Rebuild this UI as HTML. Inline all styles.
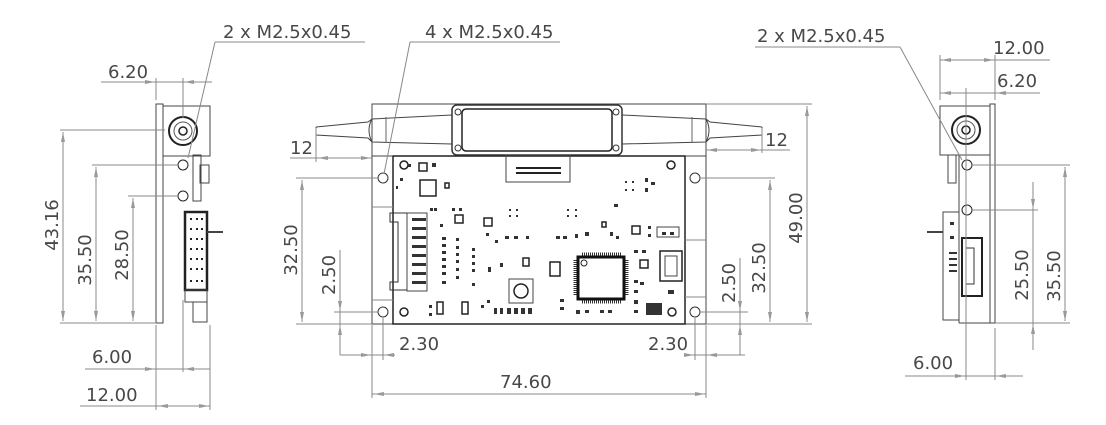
<!DOCTYPE html>
<html><head><meta charset="utf-8"><style>
html,body{margin:0;padding:0;background:#fff;}
svg{display:block;}
text{font-family:"DejaVu Sans","Liberation Sans",sans-serif;font-size:18px;fill:#484848;font-weight:normal;}
</style></head><body>
<svg width="1106" height="425" viewBox="0 0 1106 425" xmlns="http://www.w3.org/2000/svg">
<defs>
<marker id="a" viewBox="0 0 10 4" refX="10" refY="2" markerWidth="10" markerHeight="4" orient="auto-start-reverse" markerUnits="userSpaceOnUse"><path d="M0,0 L10,2 L0,4z" fill="#999"/></marker>
</defs>
<g stroke="#888" stroke-width="1" fill="none">
<!-- ===== LEFT VIEW ===== -->
<rect x="156" y="104" width="7" height="219" stroke="#444"/>
<rect x="163" y="106" width="47" height="50" stroke="#444"/>
<circle cx="183" cy="131" r="14" stroke="#222" stroke-width="2"/>
<circle cx="183" cy="131" r="9" stroke="#555"/>
<circle cx="183" cy="131" r="4" stroke="#222" stroke-width="1.5"/>
<circle cx="183" cy="165" r="5" stroke="#222"/>
<circle cx="183" cy="196" r="5" stroke="#222"/>
<rect x="193" y="155" width="8" height="46" stroke="#444"/>
<rect x="200" y="165" width="9" height="18" stroke="#444"/>
<rect x="185" y="212" width="22" height="78" stroke="#222" stroke-width="2.5"/>
<rect x="185" y="290" width="22" height="12" stroke="#444"/>
<rect x="193" y="302" width="14" height="20" stroke="#444"/>
<line x1="207" y1="232" x2="223" y2="232" stroke="#444" stroke-width="2"/>
<g fill="#222" stroke="none">
<rect x="190" y="218" width="2" height="2"/><rect x="196" y="218" width="2" height="2"/><rect x="201" y="218" width="2" height="2"/>
<rect x="190" y="228" width="2" height="2"/><rect x="196" y="228" width="2" height="2"/><rect x="201" y="228" width="2" height="2"/>
<rect x="190" y="238" width="2" height="2"/><rect x="196" y="238" width="2" height="2"/><rect x="201" y="238" width="2" height="2"/>
<rect x="190" y="248" width="2" height="2"/><rect x="196" y="248" width="2" height="2"/><rect x="201" y="248" width="2" height="2"/>
<rect x="190" y="258" width="2" height="2"/><rect x="196" y="258" width="2" height="2"/><rect x="201" y="258" width="2" height="2"/>
<rect x="190" y="268" width="2" height="2"/><rect x="196" y="268" width="2" height="2"/><rect x="201" y="268" width="2" height="2"/>
<rect x="190" y="280" width="2" height="2"/><rect x="196" y="280" width="2" height="2"/><rect x="201" y="280" width="2" height="2"/>
</g>
<!-- left dims -->
<line x1="60" y1="323" x2="155" y2="323"/>
<line x1="60" y1="130" x2="165" y2="130"/>
<line x1="92" y1="165" x2="178" y2="165"/>
<line x1="128" y1="196" x2="178" y2="196"/>
<line x1="63" y1="132" x2="63" y2="321" marker-start="url(#a)" marker-end="url(#a)"/>
<line x1="96" y1="167" x2="96" y2="321" marker-start="url(#a)" marker-end="url(#a)"/>
<line x1="133" y1="198" x2="133" y2="321" marker-start="url(#a)" marker-end="url(#a)"/>
<line x1="156" y1="78" x2="156" y2="100"/>
<line x1="183" y1="78" x2="183" y2="118"/>
<line x1="101" y1="82" x2="212" y2="82"/>
<line x1="140" y1="82" x2="155" y2="82" marker-end="url(#a)"/>
<line x1="200" y1="82" x2="184" y2="82" marker-end="url(#a)"/>
<line x1="156" y1="325" x2="156" y2="410"/>
<line x1="183" y1="300" x2="183" y2="372"/>
<line x1="210" y1="325" x2="210" y2="410"/>
<line x1="85" y1="369" x2="210" y2="369"/>
<line x1="140" y1="369" x2="155" y2="369" marker-end="url(#a)"/>
<line x1="198" y1="369" x2="184" y2="369" marker-end="url(#a)"/>
<line x1="80" y1="406" x2="210" y2="406"/>
<line x1="158" y1="406" x2="172" y2="406" marker-start="url(#a)"/>
<line x1="195" y1="406" x2="209" y2="406" marker-end="url(#a)"/>
<line x1="215" y1="42" x2="365" y2="42"/>
<line x1="215" y1="42" x2="188" y2="158"/>

<!-- ===== CENTER VIEW ===== -->
<rect x="372" y="104" width="334" height="220" stroke="#444"/>
<rect x="393" y="156" width="292" height="168" stroke="#222" stroke-width="1.5"/>
<line x1="372" y1="156" x2="393" y2="156" stroke="#444"/>
<line x1="685" y1="156" x2="706" y2="156" stroke="#444"/>
<line x1="372" y1="207" x2="393" y2="207"/><line x1="372" y1="300" x2="393" y2="300"/>
<line x1="685" y1="240" x2="706" y2="240"/><line x1="685" y1="297" x2="706" y2="297"/>
<path d="M316,127 L368,122 L372,119 L452,115 M316,127 L316,135 L368,138 L372,142 L452,144" stroke="#444"/>
<path d="M372,119 Q366,130 372,142" stroke="#444"/>
<line x1="386" y1="117" x2="386" y2="143" stroke="#666"/>
<path d="M762,127 L710,122 L706,119 L622,115 M762,127 L762,135 L710,138 L706,142 L622,144" stroke="#444"/>
<path d="M706,119 Q712,130 706,142" stroke="#444"/>
<line x1="692" y1="117" x2="692" y2="143" stroke="#666"/>
<rect x="452" y="105" width="170" height="50" rx="5" stroke="#333" stroke-width="1.5"/>
<rect x="462" y="109" width="150" height="42" rx="4" stroke="#222" stroke-width="1.5"/>
<circle cx="458" cy="112" r="3" stroke="#333"/><circle cx="616" cy="112" r="3" stroke="#333"/>
<circle cx="458" cy="148" r="3" stroke="#333"/><circle cx="616" cy="148" r="3" stroke="#333"/>
<rect x="506" y="155" width="64" height="27" stroke="#444"/>
<g fill="#222" stroke="none">
<rect x="516" y="167" width="45" height="2"/><rect x="516" y="172" width="45" height="2"/>
</g>
<circle cx="383" cy="178" r="5" stroke="#333"/><circle cx="383" cy="312" r="5" stroke="#333"/>
<circle cx="695" cy="178" r="5" stroke="#333"/><circle cx="695" cy="312" r="5" stroke="#333"/>
<circle cx="404" cy="165" r="4" stroke="#222" stroke-width="1.5"/>
<circle cx="671" cy="165" r="4" stroke="#222" stroke-width="1.5"/>
<circle cx="404" cy="312" r="4" stroke="#222" stroke-width="1.5"/>
<circle cx="672" cy="312" r="4" stroke="#222" stroke-width="1.5"/>
<path d="M390,213 L407,213 L407,290 L390,290 L390,282 L398,282 L398,222 L390,222 Z" stroke="#333"/>
<rect x="407" y="213" width="20" height="78" stroke="#444"/>
<g fill="#333" stroke="none">
<rect x="412" y="218" width="14" height="3"/><rect x="412" y="227" width="14" height="3"/><rect x="412" y="236" width="14" height="3"/>
<rect x="412" y="245" width="14" height="3"/><rect x="412" y="254" width="14" height="3"/><rect x="412" y="263" width="14" height="3"/>
<rect x="412" y="272" width="14" height="3"/><rect x="412" y="281" width="14" height="3"/>
</g>
<rect x="420" y="180" width="16" height="16" stroke="#222" stroke-width="1.5"/>
<rect x="578" y="257" width="46" height="42" stroke="#111" stroke-width="3"/>
<circle cx="584" cy="263" r="3" stroke="#222"/>
<g stroke="#333" stroke-width="3" stroke-dasharray="1,1">
<line x1="582" y1="254" x2="621" y2="254"/><line x1="582" y1="302" x2="621" y2="302"/>
<line x1="575" y1="260" x2="575" y2="296"/><line x1="627" y1="260" x2="627" y2="296"/>
</g>
<rect x="509" y="279" width="24" height="24" stroke="#444"/>
<circle cx="521" cy="291" r="7" stroke="#222" stroke-width="1.5"/>
<rect x="660" y="251" width="22" height="30" stroke="#222" stroke-width="1.5"/>
<rect x="665" y="256" width="12" height="20" stroke="#444"/>
<rect x="657" y="227" width="22" height="10" stroke="#444"/>
<rect x="550" y="262" width="10" height="14" stroke="#222" stroke-width="1.5"/>
<rect x="646" y="303" width="16" height="12" fill="#333" stroke="none"/>
<g fill="none" stroke="#222" stroke-width="1.5">
<rect x="419" y="163" width="8" height="8"/><rect x="445" y="183" width="4" height="5"/><rect x="455" y="215" width="8" height="8"/><rect x="484" y="218" width="8" height="8"/>
<rect x="523" y="258" width="6" height="8"/><rect x="602" y="222" width="4" height="5"/><rect x="632" y="226" width="8" height="8"/><rect x="640" y="260" width="8" height="8"/>
<rect x="437" y="302" width="6" height="12"/><rect x="462" y="302" width="6" height="12"/>
</g>
<g fill="#333" stroke="none">
<rect x="408" y="164" width="3" height="3"/><rect x="432" y="163" width="4" height="4"/><rect x="400" y="178" width="3" height="3"/><rect x="396" y="186" width="2" height="3"/>
<rect x="452" y="208" width="3" height="3"/><rect x="459" y="208" width="3" height="3"/><rect x="440" y="224" width="3" height="3"/>
<rect x="442" y="237" width="4" height="3"/><rect x="442" y="244" width="4" height="3"/><rect x="442" y="251" width="4" height="3"/><rect x="442" y="258" width="4" height="3"/><rect x="442" y="265" width="4" height="3"/><rect x="442" y="272" width="4" height="3"/><rect x="442" y="281" width="4" height="3"/>
<rect x="456" y="238" width="3" height="3"/><rect x="456" y="246" width="3" height="3"/><rect x="456" y="253" width="3" height="3"/><rect x="456" y="260" width="3" height="3"/><rect x="456" y="268" width="3" height="3"/><rect x="456" y="276" width="3" height="3"/>
<rect x="472" y="248" width="3" height="3"/><rect x="472" y="255" width="3" height="3"/><rect x="472" y="262" width="3" height="3"/><rect x="472" y="269" width="3" height="3"/><rect x="472" y="283" width="3" height="3"/>
<rect x="486" y="233" width="3" height="3"/><rect x="495" y="240" width="3" height="3"/><rect x="505" y="236" width="4" height="3"/><rect x="514" y="236" width="4" height="3"/><rect x="526" y="236" width="3" height="3"/>
<rect x="509" y="209" width="2" height="2"/><rect x="516" y="209" width="2" height="2"/><rect x="509" y="215" width="2" height="2"/><rect x="516" y="215" width="2" height="2"/>
<rect x="567" y="209" width="2" height="2"/><rect x="575" y="209" width="2" height="2"/><rect x="567" y="215" width="2" height="2"/><rect x="575" y="215" width="2" height="2"/>
<rect x="556" y="236" width="4" height="3"/><rect x="563" y="236" width="4" height="3"/><rect x="575" y="234" width="3" height="4"/><rect x="585" y="232" width="4" height="4"/>
<rect x="610" y="232" width="3" height="4"/><rect x="616" y="236" width="3" height="3"/><rect x="648" y="226" width="3" height="3"/><rect x="648" y="234" width="3" height="3"/>
<rect x="625" y="181" width="2" height="2"/><rect x="632" y="181" width="2" height="2"/><rect x="625" y="189" width="2" height="2"/><rect x="632" y="189" width="2" height="2"/>
<rect x="645" y="178" width="3" height="4"/><rect x="645" y="188" width="3" height="4"/><rect x="651" y="182" width="4" height="3"/><rect x="614" y="204" width="4" height="3"/>
<rect x="634" y="250" width="4" height="3"/><rect x="642" y="250" width="4" height="3"/><rect x="634" y="280" width="4" height="3"/><rect x="640" y="282" width="4" height="3"/><rect x="634" y="290" width="4" height="3"/><rect x="634" y="300" width="4" height="4"/><rect x="634" y="310" width="4" height="3"/>
<rect x="560" y="299" width="4" height="3"/><rect x="560" y="307" width="4" height="3"/><rect x="576" y="310" width="4" height="4"/><rect x="585" y="310" width="4" height="3"/><rect x="600" y="310" width="4" height="3"/><rect x="608" y="310" width="4" height="3"/>
<rect x="488" y="267" width="3" height="5"/><rect x="500" y="263" width="3" height="4"/><rect x="487" y="300" width="3" height="3"/>
<rect x="429" y="305" width="3" height="3"/><rect x="429" y="313" width="3" height="3"/><rect x="481" y="305" width="3" height="3"/>
<rect x="494" y="308" width="3" height="6"/><rect x="500" y="308" width="3" height="6"/><rect x="507" y="308" width="4" height="6"/><rect x="514" y="308" width="4" height="6"/><rect x="521" y="308" width="4" height="6"/><rect x="528" y="308" width="4" height="6"/>
<rect x="662" y="232" width="4" height="3"/><rect x="670" y="232" width="4" height="3"/><rect x="668" y="290" width="6" height="4"/>
<rect x="430" y="208" width="3" height="3"/><rect x="434" y="208" width="3" height="3"/>
</g>
<!-- center dims -->
<line x1="410" y1="42" x2="560" y2="42"/>
<line x1="410" y1="42" x2="384" y2="174"/>
<line x1="316" y1="128" x2="316" y2="162"/>
<line x1="290" y1="158" x2="372" y2="158"/>
<line x1="318" y1="158" x2="332" y2="158" marker-start="url(#a)"/>
<line x1="355" y1="158" x2="371" y2="158" marker-end="url(#a)"/>
<line x1="762" y1="128" x2="762" y2="153"/>
<line x1="706" y1="150" x2="790" y2="150"/>
<line x1="707" y1="150" x2="722" y2="150" marker-start="url(#a)"/>
<line x1="745" y1="150" x2="761" y2="150" marker-end="url(#a)"/>
<line x1="296" y1="178" x2="378" y2="178"/>
<line x1="296" y1="324" x2="372" y2="324"/>
<line x1="302" y1="180" x2="302" y2="322" marker-start="url(#a)" marker-end="url(#a)"/>
<line x1="334" y1="312" x2="378" y2="312"/>
<line x1="340" y1="250" x2="340" y2="355"/>
<line x1="340" y1="296" x2="340" y2="311" marker-end="url(#a)"/>
<line x1="340" y1="340" x2="340" y2="325" marker-end="url(#a)"/>
<line x1="372" y1="325" x2="372" y2="398"/>
<line x1="383" y1="318" x2="383" y2="360"/>
<line x1="340" y1="355" x2="395" y2="355"/>
<line x1="358" y1="355" x2="371" y2="355" marker-end="url(#a)"/>
<line x1="395" y1="355" x2="384" y2="355" marker-end="url(#a)"/>
<line x1="372" y1="394" x2="706" y2="394" />
<line x1="374" y1="394" x2="390" y2="394" marker-start="url(#a)"/>
<line x1="690" y1="394" x2="705" y2="394" marker-end="url(#a)"/>
<line x1="706" y1="325" x2="706" y2="398"/>
<line x1="695" y1="318" x2="695" y2="360"/>
<line x1="686" y1="355" x2="745" y2="355"/>
<line x1="686" y1="355" x2="694" y2="355" marker-end="url(#a)"/>
<line x1="720" y1="355" x2="707" y2="355" marker-end="url(#a)"/>
<line x1="701" y1="312" x2="748" y2="312"/>
<line x1="740" y1="258" x2="740" y2="355"/>
<line x1="740" y1="296" x2="740" y2="311" marker-end="url(#a)"/>
<line x1="740" y1="340" x2="740" y2="325" marker-end="url(#a)"/>
<line x1="701" y1="178" x2="775" y2="178"/>
<line x1="706" y1="324" x2="812" y2="324"/>
<line x1="706" y1="104" x2="812" y2="104"/>
<line x1="770" y1="180" x2="770" y2="322" marker-start="url(#a)" marker-end="url(#a)"/>
<line x1="807" y1="106" x2="807" y2="322" marker-start="url(#a)" marker-end="url(#a)"/>

<!-- ===== RIGHT VIEW ===== -->
<rect x="940" y="106" width="50" height="49" stroke="#444"/>
<rect x="990" y="104" width="5" height="219" stroke="#444"/>
<line x1="959" y1="155" x2="959" y2="323" stroke="#444"/>
<line x1="959" y1="323" x2="990" y2="323" stroke="#444"/>
<circle cx="966" cy="130" r="14" stroke="#222" stroke-width="2"/>
<circle cx="966" cy="130" r="9" stroke="#555"/>
<circle cx="966" cy="130" r="4" stroke="#222" stroke-width="1.5"/>
<circle cx="967" cy="165" r="5" stroke="#222"/>
<circle cx="967" cy="210" r="5" stroke="#222"/>
<rect x="948" y="155" width="8" height="28" stroke="#444"/>
<rect x="943" y="212" width="16" height="108" stroke="#444"/>
<rect x="962" y="238" width="20" height="58" stroke="#222" stroke-width="2"/>
<rect x="966" y="248" width="8" height="36" stroke="#333"/>
<line x1="927" y1="232" x2="943" y2="232" stroke="#444" stroke-width="2"/>
<g fill="#333" stroke="none">
<rect x="949" y="252" width="8" height="2"/><rect x="949" y="258" width="8" height="2"/><rect x="949" y="264" width="8" height="2"/><rect x="949" y="270" width="8" height="2"/>
<rect x="950" y="222" width="4" height="3"/><rect x="950" y="236" width="4" height="3"/>
</g>
<line x1="755" y1="47" x2="900" y2="47"/>
<line x1="900" y1="47" x2="962" y2="160"/>
<line x1="940" y1="55" x2="940" y2="100"/>
<line x1="995" y1="55" x2="995" y2="100"/>
<line x1="966" y1="88" x2="966" y2="380"/>
<line x1="940" y1="60" x2="1050" y2="60"/>
<line x1="941" y1="60" x2="956" y2="60" marker-start="url(#a)"/>
<line x1="980" y1="60" x2="994" y2="60" marker-end="url(#a)"/>
<line x1="940" y1="93" x2="1040" y2="93"/>
<line x1="941" y1="93" x2="956" y2="93" marker-start="url(#a)"/>
<line x1="1010" y1="93" x2="996" y2="93" marker-end="url(#a)"/>
<line x1="972" y1="165" x2="1070" y2="165"/>
<line x1="972" y1="210" x2="1038" y2="210"/>
<line x1="995" y1="323" x2="1070" y2="323"/>
<line x1="1065" y1="167" x2="1065" y2="321" marker-start="url(#a)" marker-end="url(#a)"/>
<line x1="1033" y1="182" x2="1033" y2="350"/>
<line x1="1033" y1="195" x2="1033" y2="209" marker-end="url(#a)"/>
<line x1="1033" y1="338" x2="1033" y2="324" marker-end="url(#a)"/>
<line x1="995" y1="328" x2="995" y2="380"/>
<line x1="905" y1="376" x2="1023" y2="376"/>
<line x1="950" y1="376" x2="965" y2="376" marker-end="url(#a)"/>
<line x1="1010" y1="376" x2="996" y2="376" marker-end="url(#a)"/>
</g>
<text x="223" y="38">2 x  M2.5x0.45</text>
<text x="108" y="78">6.20</text>
<text x="92" y="363">6.00</text>
<text x="86" y="401">12.00</text>
<text transform="translate(58,225) rotate(-90)" text-anchor="middle">43.16</text>
<text transform="translate(91,260) rotate(-90)" text-anchor="middle">35.50</text>
<text transform="translate(128,255) rotate(-90)" text-anchor="middle">28.50</text>
<text x="425" y="38">4 x M2.5x0.45</text>
<text x="290" y="154">12</text>
<text x="765" y="146">12</text>
<text transform="translate(297,250) rotate(-90)" text-anchor="middle">32.50</text>
<text transform="translate(335,275) rotate(-90)" text-anchor="middle">2.50</text>
<text x="399" y="350">2.30</text>
<text x="648" y="350">2.30</text>
<text x="500" y="388">74.60</text>
<text transform="translate(735,283) rotate(-90)" text-anchor="middle">2.50</text>
<text transform="translate(765,268) rotate(-90)" text-anchor="middle">32.50</text>
<text transform="translate(802,218) rotate(-90)" text-anchor="middle">49.00</text>
<text x="757" y="42">2 x M2.5x0.45</text>
<text x="993" y="54">12.00</text>
<text x="997" y="87">6.20</text>
<text transform="translate(1028,275) rotate(-90)" text-anchor="middle">25.50</text>
<text transform="translate(1060,276) rotate(-90)" text-anchor="middle">35.50</text>
<text x="913" y="369">6.00</text>
</svg>
</body></html>
